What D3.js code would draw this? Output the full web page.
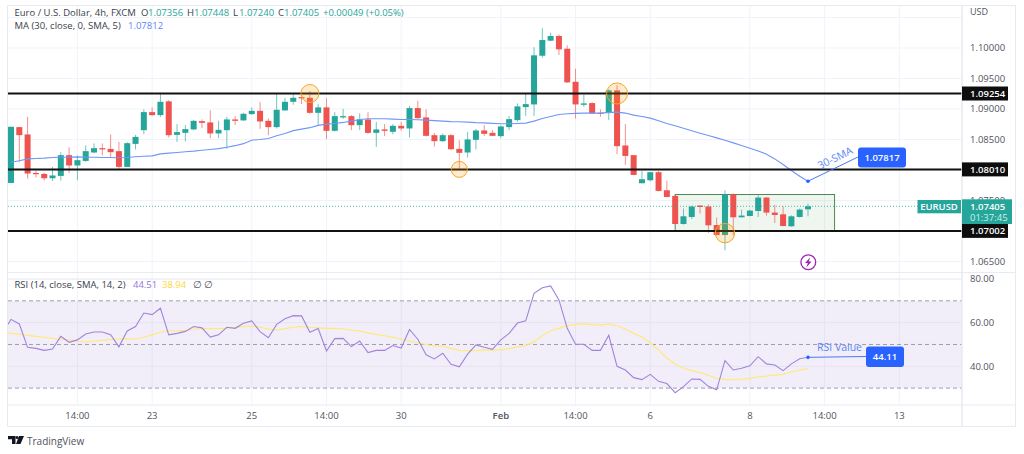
<!DOCTYPE html>
<html><head><meta charset="utf-8">
<script src="https://cdn.jsdelivr.net/npm/d3@7"></script>
<style>html,body{margin:0;padding:0;background:#fff}svg{display:block}text{font-family:"Open Sans","Noto Sans",sans-serif}</style>
</head><body><svg id="c" width="1024" height="454"></svg>
<script>
const opens=[1.07788,1.08703,1.08583,1.07952,1.07936,1.07865,1.07903,1.08243,1.08074,1.08149,1.08287,1.08358,1.08346,1.08309,1.08051,1.08428,1.08653,1.08949,1.08900,1.09125,1.08576,1.08609,1.08665,1.08801,1.08780,1.08599,1.08653,1.08829,1.08813,1.08916,1.08970,1.08806,1.08703,1.08977,1.09118,1.09195,1.09184,1.08937,1.09026,1.08642,1.08862,1.08883,1.08735,1.08829,1.08609,1.08665,1.08626,1.08724,1.08681,1.09015,1.08862,1.08571,1.08473,1.08571,1.08346,1.08287,1.08494,1.08648,1.08609,1.08555,1.08703,1.08818,1.09031,1.09075,1.09873,1.10120,1.10197,1.09988,1.09446,1.09069,1.09097,1.08937,1.08933,1.09305,1.08402,1.08243,1.07783,1.07832,1.07964,1.07668,1.07575,1.07115,1.07230,1.07417,1.07401,1.07098,1.06934,1.07598,1.07225,1.07246,1.07328,1.07548,1.07302,1.07274,1.07077,1.07230,1.07356];
const highs=[1.08711,1.08708,1.08872,1.07992,1.07952,1.08051,1.08292,1.08374,1.08238,1.08402,1.08435,1.08435,1.08583,1.08461,1.08456,1.08576,1.08993,1.09026,1.09266,1.09146,1.08752,1.08735,1.08818,1.08829,1.08977,1.08806,1.08872,1.08883,1.08937,1.09026,1.09113,1.08845,1.09245,1.09184,1.09240,1.09228,1.09294,1.09080,1.09174,1.08949,1.09003,1.08900,1.08928,1.08949,1.08790,1.08752,1.08752,1.08790,1.09047,1.09134,1.08993,1.08609,1.08599,1.08588,1.08489,1.08626,1.08675,1.08735,1.08653,1.08731,1.08883,1.09092,1.09256,1.10011,1.10323,1.10251,1.10225,1.10044,1.09660,1.09233,1.09113,1.08993,1.09322,1.09392,1.08752,1.08243,1.07985,1.07969,1.07985,1.07821,1.07591,1.07368,1.07417,1.07422,1.07433,1.07220,1.07668,1.07614,1.07351,1.07345,1.07586,1.07558,1.07427,1.07405,1.07258,1.07368,1.07448];
const lows=[1.07783,1.08128,1.07860,1.07877,1.07827,1.07821,1.07827,1.07952,1.07832,1.08133,1.08271,1.08238,1.08215,1.08013,1.08051,1.08337,1.08588,1.08888,1.08872,1.08534,1.08461,1.08468,1.08653,1.08686,1.08522,1.08522,1.08346,1.08740,1.08806,1.08905,1.08675,1.08571,1.08681,1.08970,1.09069,1.09080,1.08921,1.08735,1.08506,1.08632,1.08839,1.08653,1.08653,1.08593,1.08379,1.08555,1.08583,1.08642,1.08534,1.08839,1.08550,1.08386,1.08461,1.08325,1.08024,1.08205,1.08337,1.08560,1.08555,1.08522,1.08653,1.08790,1.08888,1.08888,1.09841,1.10110,1.09885,1.09425,1.08845,1.09036,1.08916,1.08872,1.08818,1.08259,1.08084,1.07914,1.07778,1.07811,1.07647,1.07553,1.07110,1.07105,1.07197,1.07286,1.06967,1.06924,1.06683,1.06929,1.07220,1.07241,1.07230,1.07253,1.07131,1.07077,1.07072,1.07220,1.07240];
const closes=[1.08708,1.08571,1.07942,1.07931,1.07865,1.07910,1.08243,1.08074,1.08161,1.08309,1.08358,1.08337,1.08292,1.08051,1.08440,1.08543,1.08949,1.08900,1.09118,1.08571,1.08621,1.08670,1.08806,1.08773,1.08599,1.08658,1.08829,1.08806,1.08921,1.08970,1.08796,1.08703,1.08987,1.09118,1.09184,1.09174,1.08937,1.09026,1.08642,1.08883,1.08883,1.08735,1.08829,1.08609,1.08665,1.08642,1.08724,1.08681,1.09015,1.08850,1.08560,1.08473,1.08571,1.08341,1.08281,1.08501,1.08648,1.08593,1.08560,1.08714,1.08834,1.09043,1.09080,1.09880,1.10131,1.10197,1.09978,1.09437,1.09075,1.09092,1.08928,1.08928,1.09305,1.08391,1.08231,1.07919,1.07849,1.07964,1.07657,1.07558,1.07115,1.07241,1.07401,1.07394,1.07093,1.06934,1.07598,1.07225,1.07253,1.07335,1.07548,1.07302,1.07263,1.07082,1.07241,1.07351,1.07405];
const sma30=[1.08128,1.08153,1.08182,1.08189,1.08194,1.08205,1.08210,1.08210,1.08215,1.08210,1.08210,1.08205,1.08205,1.08202,1.08205,1.08218,1.08226,1.08231,1.08264,1.08276,1.08287,1.08300,1.08309,1.08325,1.08337,1.08350,1.08374,1.08399,1.08432,1.08489,1.08501,1.08517,1.08563,1.08599,1.08645,1.08670,1.08694,1.08731,1.08752,1.08763,1.08780,1.08801,1.08829,1.08839,1.08839,1.08839,1.08834,1.08829,1.08829,1.08823,1.08818,1.08809,1.08801,1.08793,1.08790,1.08785,1.08777,1.08773,1.08765,1.08757,1.08757,1.08763,1.08768,1.08801,1.08845,1.08878,1.08911,1.08921,1.08928,1.08933,1.08933,1.08933,1.08944,1.08949,1.08933,1.08900,1.08878,1.08850,1.08806,1.08763,1.08724,1.08686,1.08642,1.08604,1.08566,1.08527,1.08489,1.08445,1.08402,1.08358,1.08313,1.08259,1.08182,1.08090,1.07992,1.07898,1.07816];
const rsi=[55.4,61.5,59.4,48.7,48.2,47.3,47.9,53.7,51.0,52.1,54.8,55.7,55.7,54.5,48.9,56.2,58.2,64.4,63.7,66.6,54.4,55.1,56.0,58.2,57.6,53.4,54.4,57.9,57.4,59.7,60.8,55.9,53.1,59.2,61.8,63.2,63.1,55.6,57.3,47.0,52.7,52.8,49.0,51.6,46.3,47.3,47.3,49.5,48.4,56.9,52.4,45.3,43.4,46.0,40.9,39.8,45.6,49.8,48.7,47.8,52.1,55.1,59.8,60.8,73.4,76.0,76.8,70.4,57.4,50.1,50.1,47.3,47.3,54.2,40.0,38.3,34.8,33.9,36.3,33.1,32.1,27.9,30.7,34.2,34.0,30.8,29.2,42.6,38.3,39.1,40.2,44.4,41.1,40.6,38.0,41.1,43.5,44.11];
const rsiMa=[55.6,55.1,54.7,54.2,53.7,53.3,52.8,52.4,52.1,51.6,51.1,51.6,51.9,52.2,52.5,52.7,52.4,53.3,54.4,55.6,56.2,56.3,56.5,57.1,57.3,57.3,57.3,57.4,57.9,58.2,58.5,57.9,57.0,56.6,57.3,57.9,58.3,57.9,57.6,57.4,57.4,57.1,56.6,56.2,55.3,54.5,54.0,53.4,52.4,51.6,50.8,49.9,49.3,49.2,48.2,47.3,47.2,47.2,47.5,47.3,47.5,48.1,48.9,49.5,51.3,54.0,56.3,57.4,58.6,59.2,59.4,59.1,58.9,59.4,58.6,57.1,55.1,53.4,50.8,47.5,43.7,40.9,39.2,38.0,37.1,35.9,34.5,34.0,33.9,34.0,34.5,35.2,35.5,36.0,36.4,37.4,38.3,38.94];
const priceTicks=[1.065,1.07,1.075,1.08,1.085,1.09,1.095,1.10];
const priceGrid=[1.065,1.07,1.075,1.08,1.085,1.09,1.095,1.10,1.105];
const rsiTicks=[40,60,80];
const rsiBands=[70,50,30];
const levels=[1.09254,1.0801,1.07002];
const timeIdx=[8,17,29,38,47,59,68,77,89,98,107];
const timeLabels=["14:00","23","25","14:00","30","Feb","14:00","6","8","14:00","13"];
const circles=[[36,1.09254,9],[73,1.09254,10.5],[54,1.0801,8],[86,1.06965,9.7]];
const box=[80,99.2,1.07598,1.07002];
const last=96;

const UP="#26a69a",DN="#ef5350",GRID="#f0f3fa",TXT="#3a3e4a",AX="#50535e";
const L=8,R=962,OUT=1016,TOP=6,MB=272.5,TB=405,BOT=427;
const svg=d3.select("#c");
const x=d3.scaleLinear().domain([0,96]).range([11,808]);
const y=d3.scaleLinear().domain([1.065,1.10]).range([261.5,48]);
const yr=d3.scaleLinear().domain([40,80]).range([366.3,279]);
const defs=svg.append("defs");
defs.append("clipPath").attr("id","pm").append("rect").attr("x",L).attr("y",TOP).attr("width",R-L).attr("height",MB-TOP);
defs.append("clipPath").attr("id","pr").append("rect").attr("x",L).attr("y",MB).attr("width",R-L).attr("height",TB-MB);

// grid
const g=svg.append("g");
g.selectAll(".v").data(timeIdx).join("line").attr("x1",d=>x(d)).attr("x2",d=>x(d)).attr("y1",TOP).attr("y2",TB).attr("stroke",GRID);
g.selectAll(".hp").data(priceGrid).join("line").attr("x1",L).attr("x2",R).attr("y1",d=>y(d)).attr("y2",d=>y(d)).attr("stroke",GRID);

// rsi band
const rp=svg.append("g").attr("clip-path","url(#pr)");
rp.append("rect").attr("x",L).attr("width",R-L).attr("y",yr(70)).attr("height",yr(30)-yr(70)).attr("fill","#7e57c2").attr("opacity",.1);
rp.selectAll(".hr").data(rsiTicks).join("line").attr("x1",L).attr("x2",R).attr("y1",d=>yr(d)).attr("y2",d=>yr(d)).attr("stroke","#e6e4f0");
rp.selectAll(".bd").data(rsiBands).join("line").attr("x1",L).attr("x2",R).attr("y1",d=>yr(d)).attr("y2",d=>yr(d)).attr("stroke","#787b86").attr("stroke-opacity",.7).attr("stroke-dasharray","4 3");
const lnR=d3.line().x((d,i)=>x(i-1)).y(d=>yr(d));
rp.append("path").attr("d",lnR(rsiMa)).attr("fill","none").attr("stroke","#ffe97a").attr("stroke-width",1.2);
rp.append("path").attr("d",lnR(rsi)).attr("fill","none").attr("stroke","#a084dc").attr("stroke-width",1.1);

// main pane
const m=svg.append("g").attr("clip-path","url(#pm)");
m.append("rect").attr("x",x(box[0])).attr("width",x(box[1])-x(box[0])).attr("y",y(box[2])).attr("height",y(box[3])-y(box[2])).attr("fill","#388e3c").attr("fill-opacity",.08).attr("stroke","#4c8a50").attr("stroke-width",1);
const idx=d3.range(opens.length);
m.selectAll(".w").data(idx).join("line").attr("x1",i=>x(i)).attr("x2",i=>x(i)).attr("y1",i=>y(highs[i])).attr("y2",i=>y(lows[i])).attr("stroke",i=>closes[i]>=opens[i]?UP:DN).attr("stroke-width",1).attr("stroke-opacity",.65);
m.selectAll(".b").data(idx).join("rect").attr("x",i=>x(i)-3).attr("width",6).attr("y",i=>y(Math.max(opens[i],closes[i]))).attr("height",i=>Math.max(1,Math.abs(y(opens[i])-y(closes[i])))).attr("fill",i=>closes[i]>=opens[i]?UP:DN);
m.append("path").attr("d",d3.line().x((d,i)=>x(i)).y(d=>y(d))(sma30)).attr("fill","none").attr("stroke","#7096f8").attr("stroke-width",1.1);
m.selectAll(".lv").data(levels).join("line").attr("x1",L).attr("x2",R).attr("y1",d=>y(d)).attr("y2",d=>y(d)).attr("stroke","#111").attr("stroke-width",2);
m.selectAll(".ci").data(circles).join("circle").attr("cx",d=>x(d[0])).attr("cy",d=>y(d[1])).attr("r",d=>d[2]).attr("fill","#ff9800").attr("fill-opacity",.2).attr("stroke","#f5a623").attr("stroke-width",1);
m.append("line").attr("x1",L).attr("x2",R).attr("y1",y(closes[last])).attr("y2",y(closes[last])).attr("stroke",UP).attr("stroke-dasharray","1 2").attr("stroke-opacity",.8);

// frame
const fr=svg.append("g").attr("stroke","#e8eaf1").attr("fill","none");
fr.append("rect").attr("x",L-.5).attr("y",TOP-.5).attr("width",OUT-L).attr("height",BOT-TOP);
fr.append("line").attr("x1",R).attr("x2",R).attr("y1",TOP).attr("y2",BOT).attr("stroke-width",1.5);
fr.append("line").attr("x1",L).attr("x2",OUT).attr("y1",MB).attr("y2",MB);
fr.append("line").attr("x1",L).attr("x2",OUT).attr("y1",TB).attr("y2",TB);

function T(sel,xx,yy,s,fs,c,a,w){return sel.append("text").attr("x",xx).attr("y",yy).attr("dy",".35em").attr("font-size",fs).attr("fill",c).attr("text-anchor",a||"start").attr("font-weight",w||400).text(s);}
const t=svg.append("g");
const AXX=970;
// price axis
priceTicks.forEach(d=>T(t,AXX,y(d),d3.format(".5f")(d),9.5,AX));
T(t,AXX,11.5,"USD",9,AX);
rsiTicks.forEach(d=>T(t,AXX,yr(d),d3.format(".2f")(d),9.5,AX));
// time axis
timeIdx.forEach((d,i)=>T(t,x(d),415.5,timeLabels[i],9.5,AX,"middle",timeLabels[i]==="Feb"?600:400));
// level tags
levels.forEach(d=>{t.append("rect").attr("x",R).attr("width",46).attr("y",y(d)-7).attr("height",14).attr("fill","#0d0d0d");T(t,AXX,y(d),d3.format(".5f")(d),9.5,"#fff","start",600);});
// last price tag
t.append("rect").attr("x",R).attr("width",50).attr("y",199.3).attr("height",24.7).attr("fill",UP);
T(t,AXX,y(closes[last])+.5,d3.format(".5f")(closes[last]),9.5,"#fff","start",600);
T(t,AXX,218,"01:37:45",9.5,"#cdeeea");
t.append("rect").attr("x",917.5).attr("width",43.5).attr("y",200).attr("height",13.3).attr("fill",UP);
T(t,939,206.7,"EURUSD",9.5,"#fff","middle",600);
// legend
T(t,14.5,12.5,"Euro / U.S. Dollar, 4h, FXCM",9.5,TXT);
const lg=(xx,s,c)=>T(t,xx,12.5,s,9.5,c);
lg(141,"O",TXT);lg(148,d3.format(".5f")(opens[last]),UP);
lg(187,"H",TXT);lg(194,d3.format(".5f")(highs[last]),UP);
lg(233,"L",TXT);lg(239,d3.format(".5f")(lows[last]),UP);
lg(278,"C",TXT);lg(284,d3.format(".5f")(closes[last]),UP);
lg(323,"+0.00049 (+0.05%)",UP);
T(t,14.5,26,"MA (30, close, 0, SMA, 5)",9.5,TXT);
T(t,128,26,"1.07812",9.5,"#5b86f7");
T(t,14.5,285,"RSI (14, close, SMA, 14, 2)",9.5,TXT);
T(t,133,285,"44.51",9.5,"#9575d8");
T(t,162,285,"38.94",9.5,"#fdd835");
T(t,193,285,"∅",9.5,AX);T(t,204,285,"∅",9.5,AX);
// callouts
const blue="#2962ff";
const a=svg.append("g");
a.append("line").attr("x1",x(last)).attr("y1",y(sma30[last])).attr("x2",858).attr("y2",157).attr("stroke","#4a78f5").attr("stroke-width",1);
a.append("circle").attr("cx",x(last)).attr("cy",y(sma30[last])).attr("r",1.8).attr("fill",blue);
a.append("rect").attr("x",858).attr("y",147.5).attr("width",48).attr("height",20).attr("rx",3).attr("fill",blue);
T(a,882,157.5,"1.07817",9.5,"#fff","middle",600);
a.append("text").attr("transform","translate(835,158) rotate(-26)").attr("text-anchor","middle").attr("dy",".35em").attr("font-size",10.5).attr("fill","#5b86f7").text("30-SMA");
a.append("line").attr("x1",x(last)).attr("y1",yr(rsi[rsi.length-1])).attr("x2",866).attr("y2",356.5).attr("stroke","#4a78f5").attr("stroke-width",1);
a.append("circle").attr("cx",x(last)).attr("cy",yr(rsi[rsi.length-1])).attr("r",1.8).attr("fill",blue);
a.append("rect").attr("x",866).attr("y",346.5).attr("width",38).attr("height",20.5).attr("rx",3).attr("fill",blue);
T(a,885,357,"44.11",9.5,"#fff","middle",600);
T(a,839.5,347.5,"RSI Value",10.5,"#5b86f7","middle");
// lightning
a.append("circle").attr("cx",808.3).attr("cy",262.3).attr("r",7.4).attr("fill","#fff").attr("stroke","#9c27b0").attr("stroke-width",1.3);
a.append("path").attr("d","M810.2 257.2 L805 263 L807.8 263 L806.4 267.4 L811.6 261.6 L808.8 261.6 Z").attr("fill","#9c27b0");
// logo
a.append("path").attr("d","M8 436h7.5v8h-3.5v-4.8h-4z M19 436h5l-3.5 8h-4.5z").attr("fill","#131722");
a.append("circle").attr("cx",17).attr("cy",437.6).attr("r",1.5).attr("fill","#131722");
T(a,27,441,"TradingView",10,"#50535e");
</script></body></html>
